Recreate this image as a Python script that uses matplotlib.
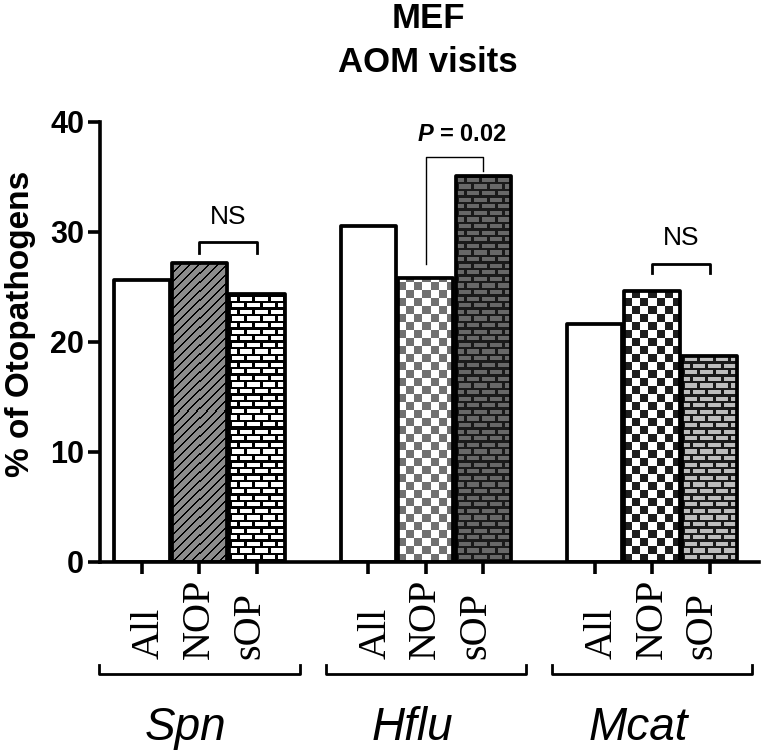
import numpy as np
import matplotlib
matplotlib.use('Agg')
import matplotlib.pyplot as plt
from matplotlib.colors import to_rgb

plt.rcParams['font.family'] = ['Liberation Sans', 'DejaVu Sans']
plt.rcParams['mathtext.fontset'] = 'custom'
plt.rcParams['mathtext.rm'] = 'Liberation Sans'
plt.rcParams['mathtext.bf'] = 'Liberation Sans:bold'
plt.rcParams['mathtext.bfit'] = 'Liberation Sans:italic:bold'

# dados
groups = ['Spn', 'Hflu', 'Mcat']
subgroups = ['All', 'NOP', 'sOP']
spn = [25.6, 27.2, 24.3]
hflu = [30.5, 25.8, 35.1]
mcat = [21.6, 24.6, 18.7]
sig_labels = ['NS', r'$\mathbfit{P}$ = 0.02', 'NS']
sig_top = [29.05, 36.76, 27.1]
sig_legs = [(28.1, 28.1), (27.1, 35.56), (26.24, 26.24)]
yticks = [0, 10, 20, 30, 40]

# texturas das barras (estilo)
fills = [
    [None, ('diag', 'black', '#8c8c8c'), ('brick', 'white', 'black')],
    [None, ('checker', '#707070', 'white'), ('brick', '#686868', '#1a1a1a')],
    [None, ('checker', '#1e1e1e', 'white'), ('brick', '#bdbdbd', '#1a1a1a')],
]


def make_texture(kind, c1, c2, nx, ny):
    X, Y = np.meshgrid(np.arange(nx), np.arange(ny))
    if kind == 'diag':
        mask = ((X - Y) % 9) < 2
    elif kind == 'checker':
        mask = ((X // 8) + (Y // 8)) % 2 == 0
    else:
        row = 6.6
        r = np.floor(Y / row)
        yin = Y - r * row
        xin = (X + (r % 2) * 7.5) % 15
        mask = (yin >= 2.4) & (xin >= 3)
    a = np.where(mask[..., None], np.array(to_rgb(c1)), np.array(to_rgb(c2)))
    return a


fig = plt.figure(figsize=(7.62, 7.52), dpi=100)
ax = fig.add_axes([100 / 762, (752 - 561.7) / 752, 659 / 762, 440 / 752])
xlim = (-0.73, 10.73)
ax.set_xlim(*xlim)
ax.set_ylim(0, 40)

group_gap = 3.935
values = [spn, hflu, mcat]
all_x = []
for g, vals in enumerate(values):
    xs = g * group_gap + np.arange(len(vals))
    all_x.extend(xs)
    bars = ax.bar(xs, vals, width=0.96, facecolor='none', edgecolor='black',
                  linewidth=2.7, joinstyle='round', zorder=3)
    for bar, fill in zip(bars, fills[g]):
        if fill is None:
            continue
        x0, h, w = bar.get_x(), bar.get_height(), bar.get_width()
        p0 = ax.transData.transform((x0, 0))
        p1 = ax.transData.transform((x0 + w, h))
        nx = int(round(p1[0] - p0[0]))
        ny = int(round(p1[1] - p0[1]))
        img = make_texture(fill[0], fill[1], fill[2], nx, ny)
        im = ax.imshow(img, extent=(x0, x0 + w, 0, h), origin='lower',
                       interpolation='nearest', aspect='auto', zorder=2)
        im.set_clip_path(bar)

ax.set_xlim(*xlim)
ax.set_ylim(0, 40)

# eixos
for s in ['top', 'right']:
    ax.spines[s].set_visible(False)
for s in ['left', 'bottom']:
    ax.spines[s].set_linewidth(2.6)
ax.set_yticks(yticks)
ax.set_yticklabels([str(t) for t in yticks], fontsize=22, fontweight='bold')
ax.tick_params(axis='y', length=8.5, width=2.6, pad=3)
ax.set_xticks(all_x)
ax.set_xticklabels([])
ax.tick_params(axis='x', length=8.5, width=2.6)

xtr = ax.get_xaxis_transform()
for g, name in enumerate(groups):
    mid = g * group_gap + 1
    for i, lab in enumerate(subgroups):
        ax.text(mid + (i - 1) * 0.87, -0.2205, lab, rotation=90, fontsize=29,
                family='Liberation Serif', ha='center', va='bottom',
                transform=xtr, clip_on=False)
    # chave do grupo
    ax.plot([mid - 1.74, mid - 1.74, mid + 1.74, mid + 1.74],
            [-0.235, -0.256, -0.256, -0.235], color='black', lw=2,
            transform=xtr, clip_on=False)
    ax.text(mid - 0.24, -0.405, name, fontsize=33, style='italic',
            ha='center', va='baseline', transform=xtr, clip_on=False)

# significancia
for g, lab in enumerate(sig_labels):
    a = g * group_gap + 1
    b = g * group_gap + 2
    lw = 1.0 if g == 1 else 2.0
    ax.plot([a, a, b, b], [sig_legs[g][0], sig_top[g], sig_top[g], sig_legs[g][1]],
            color='black', lw=lw, clip_on=False, zorder=4)
    if g == 1:
        ax.text((a + b) / 2 + 0.12, sig_top[g] + 2.1, lab, fontsize=17,
                fontweight='bold', ha='center', va='center')
    else:
        ax.text((a + b) / 2, sig_top[g] + 2.3, lab, fontsize=19,
                ha='center', va='center')

fig.text(21 / 762, 1 - 324 / 752, '% of Otopathogens', rotation=90,
         fontsize=24, fontweight='bold', ha='center', va='center')
fig.text(428 / 762, 1 - 28.3 / 752, 'MEF', fontsize=25, fontweight='bold',
         ha='center', va='baseline')
fig.text(428 / 762, 1 - 71.7 / 752, 'AOM visits', fontsize=25,
         fontweight='bold', ha='center', va='baseline')

fig.savefig('out.png', dpi=100)
